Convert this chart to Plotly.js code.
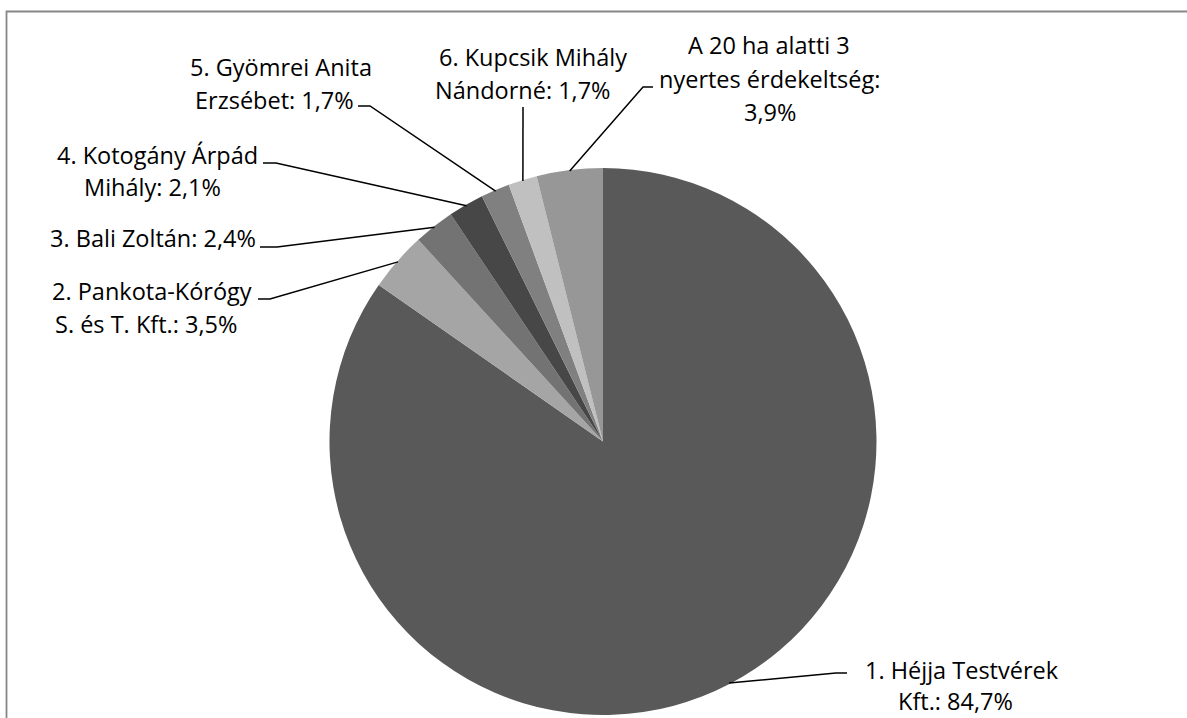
<!DOCTYPE html>
<html>
<head>
<meta charset="utf-8">
<script src="https://cdn.plot.ly/plotly-3.0.1.min.js"></script>
<style>
  html, body { margin: 0; padding: 0; background: #fff; }
  #chart { width: 1187px; height: 718px; }
</style>
</head>
<body>
<div id="chart"></div>
<script>
// ---- Data ----
const labels = [
  '1. Héjja Testvérek Kft.',
  '2. Pankota-Kórógy S. és T. Kft.',
  '3. Bali Zoltán',
  '4. Kotogány Árpád Mihály',
  '5. Gyömrei Anita Erzsébet',
  '6. Kupcsik Mihály Nándorné',
  'A 20 ha alatti 3 nyertes érdekeltség'
];
const values = [84.7, 3.5, 2.4, 2.1, 1.7, 1.7, 3.9];

// ---- Styles / layout config ----
const colors = ['#595959', '#a5a5a5', '#737373', '#474747', '#808080', '#c0c0c0', '#979797'];
const W = 1187, H = 718;
const CX = 603, CY = 441.5, R = 273.5;       // pie geometry in px
const FONT = {family: '"Open Sans", Lato, sans-serif', size: 23.5, color: '#000'};

// word counts per wrapped line, per label
const wrap = [[3, 2], [2, 5], [4], [3, 2], [3, 2], [3, 2], [5, 2, 1]];
// centre of each text line (px)
const lineCenters = [
  [[961.5, 670], [955.5, 701]],
  [[152, 291], [146, 324]],
  [[152.5, 237.5]],
  [[157.5, 154.5], [152, 186.5]],
  [[280.7, 66.5], [274.7, 99.5]],
  [[532.5, 56.5], [522.5, 89.5]],
  [[769, 44.5], [769, 78.5], [770, 111.5]]
];
// leader-line anchor near the label and its elbow (px)
const leaders = [
  [[847, 673], [836, 673]],
  [[258, 299], [270, 299]],
  [[260, 247], [277, 247]],
  [[263, 163], [276, 163]],
  [[358, 106], [370, 106]],
  [[523, 107], [523, 107]],
  [[653, 87], [643, 87]]
];

const fmt = v => v.toFixed(1).replace('.', ',') + '%';
const total = values.reduce((a, b) => a + b, 0);

const annotations = [];
const shapes = [];
let cum = 0;
values.forEach((v, i) => {
  const mid = (cum + v / 2) / total * 2 * Math.PI;  // clockwise from 12 o'clock
  cum += v;
  const ex = CX + (R - 1) * Math.sin(mid);
  const ey = CY - (R - 1) * Math.cos(mid);
  const words = (labels[i] + ': ' + fmt(v)).split(' ');
  let k = 0;
  wrap[i].forEach((n, j) => {
    const txt = words.slice(k, k + n).join(' ');
    k += n;
    const [lx, ly] = lineCenters[i][j];
    annotations.push({
      x: lx, y: ly, xref: 'x', yref: 'y', text: txt, showarrow: false,
      xanchor: 'center', yanchor: 'middle', font: FONT
    });
  });
  const [a, b] = leaders[i];
  shapes.push({
    type: 'path', xref: 'x', yref: 'y',
    path: `M${a[0]},${a[1]} L${b[0]},${b[1]} L${ex.toFixed(1)},${ey.toFixed(1)}`,
    line: {color: '#000', width: 1.5}
  });
});

// outer frame (only top and left edges visible in the crop)
shapes.push({
  type: 'path', xref: 'x', yref: 'y',
  path: 'M6.5,740 L6.5,11.5 L1200,11.5',
  line: {color: '#878787', width: 1.8}
});

const trace = {
  type: 'pie',
  labels: labels,
  values: values,
  sort: false,
  direction: 'clockwise',
  rotation: 0,
  marker: {colors: colors, line: {width: 0}},
  textinfo: 'none',
  hoverinfo: 'label+percent',
  showlegend: false,
  domain: {
    x: [(CX - 500) / W, (CX + 500) / W],
    y: [(H - (CY + R)) / H, (H - (CY - R)) / H]
  }
};

const layout = {
  width: W, height: H,
  margin: {l: 0, r: 0, t: 0, b: 0},
  paper_bgcolor: '#fff', plot_bgcolor: 'rgba(0,0,0,0)',
  showlegend: false,
  xaxis: {range: [0, W], visible: false, fixedrange: true},
  yaxis: {range: [H, 0], visible: false, fixedrange: true},
  annotations: annotations,
  shapes: shapes
};

Plotly.newPlot('chart', [trace], layout, {displayModeBar: false, staticPlot: true});
</script>
</body>
</html>
